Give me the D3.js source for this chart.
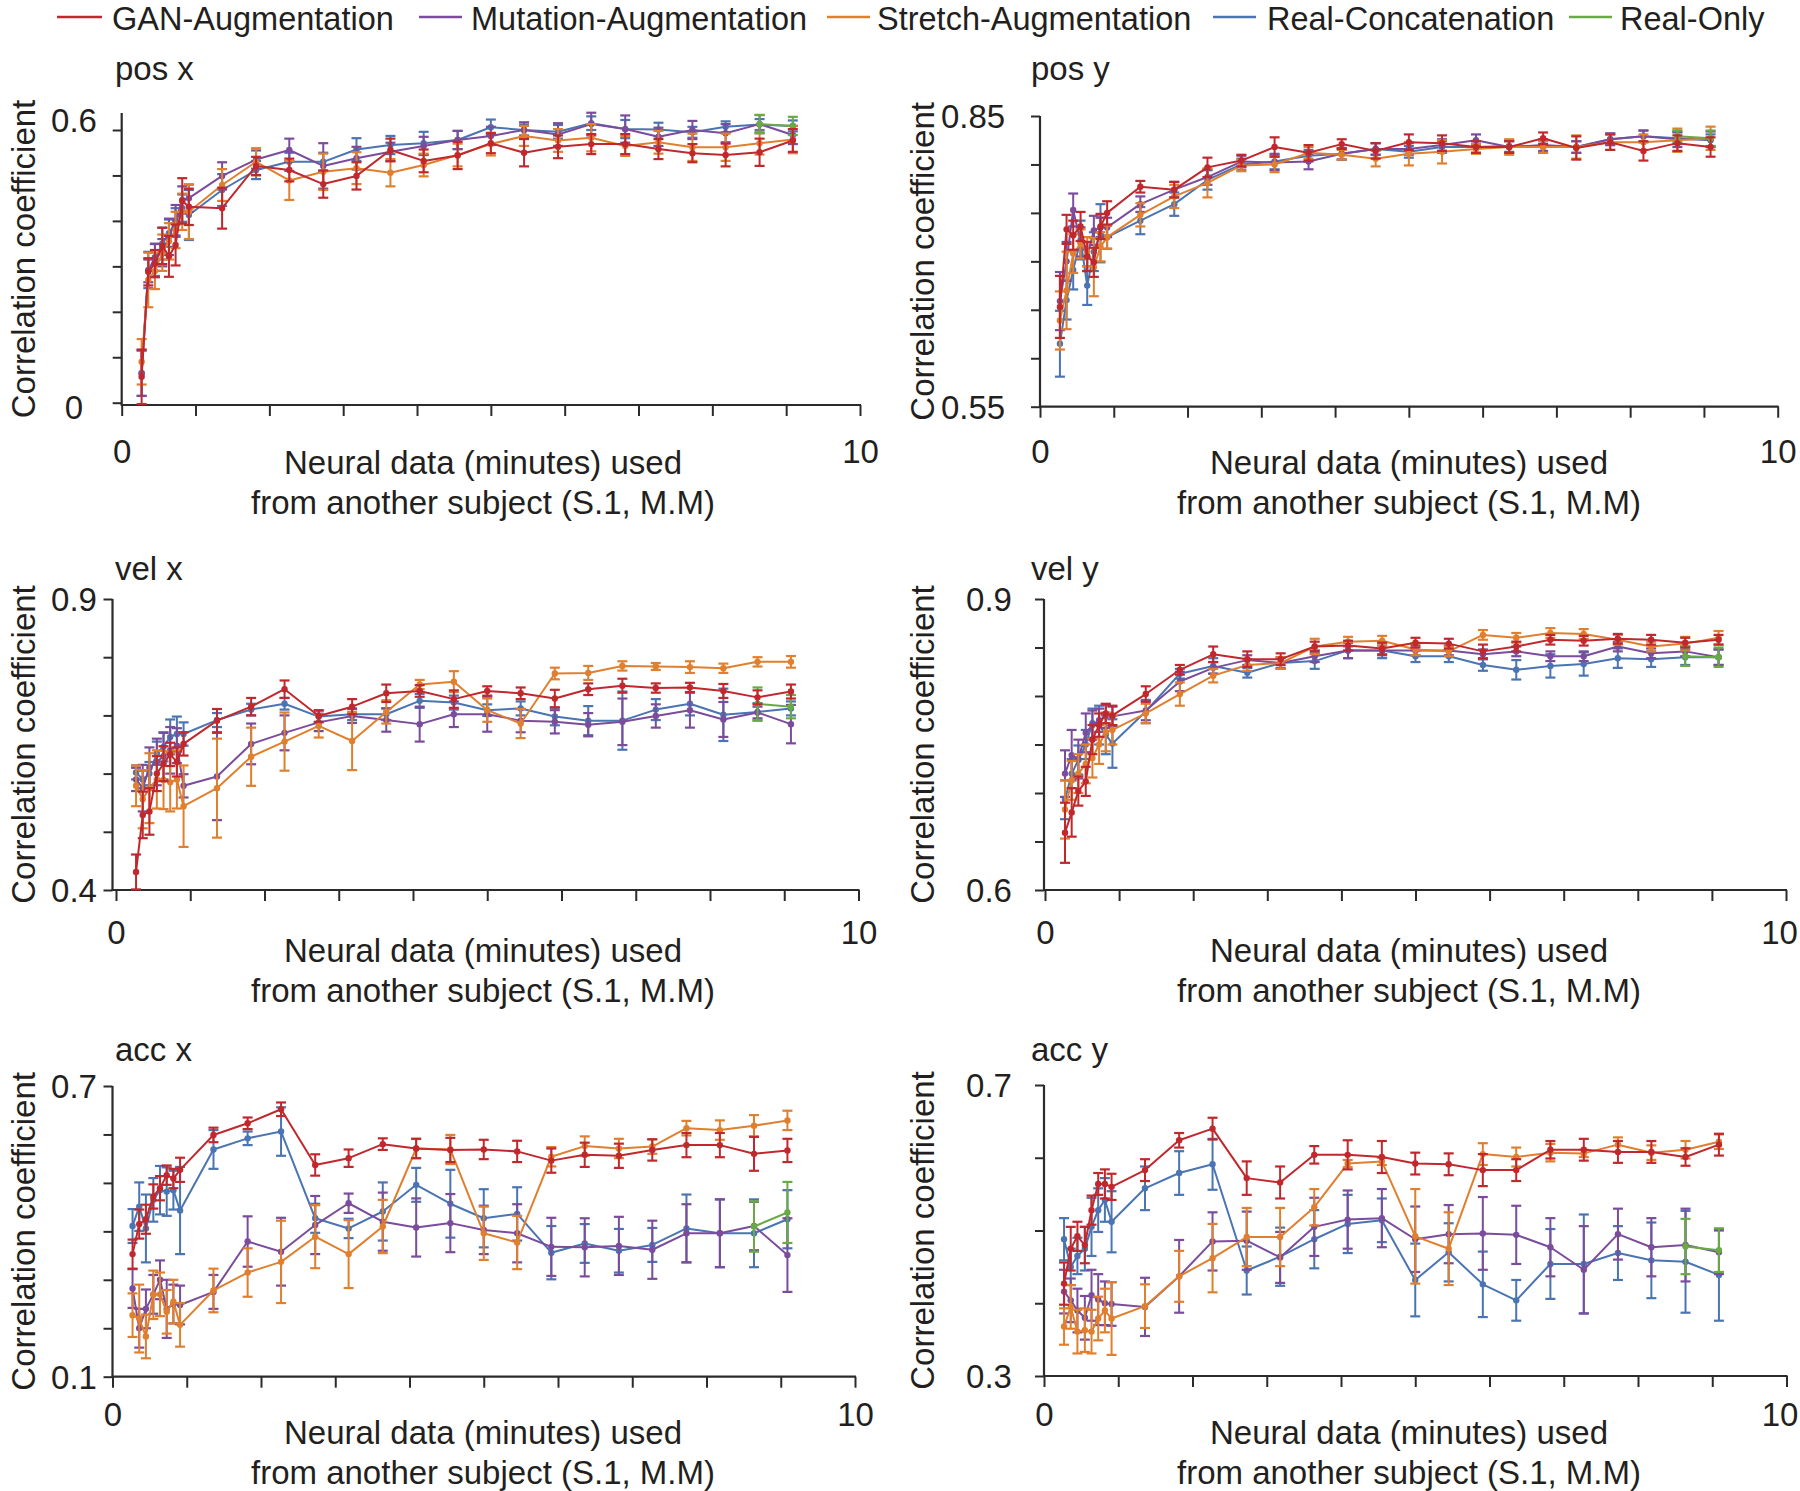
<!DOCTYPE html>
<html><head><meta charset="utf-8">
<script src="https://cdn.jsdelivr.net/npm/d3@7"></script>
<style>
html,body{margin:0;padding:0;background:#fff;}
svg{display:block;}
text{font-family:"Liberation Sans",Arial,Helvetica,sans-serif;fill:#231f20;}
</style>
</head><body>
<svg id="chart" width="1800" height="1491"></svg>
<script>
// ---------------- DATA ----------------
const xMinutes = [0.27,0.36,0.45,0.55,0.64,0.73,0.82,0.91,1.36,1.82,2.27,2.73,3.18,3.64,4.09,4.55,5.00,5.45,5.91,6.36,6.82,7.27,7.73,8.18,8.64,9.09];
const xRealOnly = [8.64, 9.09];
const seriesNames = ["GAN-Augmentation","Mutation-Augmentation","Stretch-Augmentation","Real-Concatenation","Real-Only"];
const seriesColors = ["#c0282d","#7b4c9c","#e07f2e","#4a74b2","#6aaa45"];
const panelTitles = ["pos x","pos y","vel x","vel y","acc x","acc y"];
const yAxisTitle = "Correlation coefficient";
const xAxisTitle1 = "Neural data (minutes) used";
const xAxisTitle2 = "from another subject (S.1, M.M)";
const xTickValues = [0,1,2,3,4,5,6,7,8,9,10];
const xTickLabels = ["0","10"];

const posX_yTicks = [0,0.1,0.2,0.3,0.4,0.5,0.6];
const posX_yLabels = ["0","0.6"];
const posY_yTicks = [0.55,0.6,0.65,0.7,0.75,0.8,0.85];
const posY_yLabels = ["0.55","0.85"];
const velX_yTicks = [0.4,0.5,0.6,0.7,0.8,0.9];
const velX_yLabels = ["0.4","0.9"];
const velY_yTicks = [0.6,0.65,0.7,0.75,0.8,0.85,0.9];
const velY_yLabels = ["0.6","0.9"];
const accX_yTicks = [0.1,0.2,0.3,0.4,0.5,0.6,0.7];
const accX_yLabels = ["0.1","0.7"];
const accY_yTicks = [0.3,0.4,0.5,0.6,0.7];
const accY_yLabels = ["0.3","0.7"];

// pos x
const posX_GAN = [0.057,0.288,0.306,0.345,0.322,0.347,0.444,0.431,0.428,0.521,0.512,0.481,0.499,0.556,0.532,0.544,0.571,0.550,0.563,0.569,0.569,0.558,0.549,0.545,0.551,0.577];
const posX_GAN_err = [0.06,0.03,0.03,0.04,0.045,0.045,0.05,0.04,0.045,0.02,0.025,0.03,0.03,0.025,0.025,0.03,0.022,0.03,0.025,0.022,0.022,0.022,0.02,0.025,0.03,0.025];
const posX_Mut = [0.065,0.29,0.32,0.33,0.365,0.40,0.446,0.45,0.499,0.535,0.556,0.521,0.538,0.552,0.565,0.578,0.587,0.600,0.590,0.613,0.602,0.585,0.600,0.593,0.613,0.589];
const posX_Mut_err = [0.05,0.025,0.03,0.03,0.04,0.035,0.03,0.03,0.03,0.02,0.025,0.05,0.025,0.02,0.02,0.02,0.02,0.017,0.025,0.025,0.03,0.02,0.02,0.02,0.02,0.02];
const posX_Str = [0.09,0.27,0.29,0.33,0.355,0.38,0.42,0.42,0.479,0.530,0.489,0.508,0.516,0.506,0.523,0.545,0.569,0.587,0.577,0.583,0.565,0.573,0.562,0.562,0.571,0.579];
const posX_Str_err = [0.05,0.06,0.04,0.04,0.04,0.04,0.04,0.06,0.035,0.03,0.043,0.04,0.035,0.03,0.025,0.025,0.025,0.022,0.025,0.03,0.022,0.025,0.03,0.03,0.025,0.03];
const posX_RC = [0.065,0.292,0.314,0.35,0.373,0.398,0.428,0.413,0.468,0.512,0.530,0.530,0.557,0.567,0.571,0.578,0.606,0.600,0.596,0.615,0.602,0.601,0.595,0.607,0.612,0.609];
const posX_RC_err = [0.05,0.04,0.035,0.035,0.03,0.03,0.03,0.055,0.035,0.02,0.02,0.02,0.025,0.02,0.025,0.02,0.017,0.012,0.015,0.015,0.02,0.015,0.012,0.012,0.012,0.012];
const posX_RO = [0.613,0.609];
const posX_RO_err = [0.02,0.02];

// pos y
const posY_GAN = [0.653,0.733,0.727,0.736,0.705,0.699,0.736,0.750,0.777,0.774,0.797,0.804,0.818,0.812,0.821,0.814,0.823,0.822,0.818,0.818,0.827,0.817,0.823,0.814,0.822,0.818];
const posY_GAN_err = [0.032,0.015,0.015,0.015,0.015,0.015,0.013,0.012,0.006,0.008,0.01,0.006,0.01,0.008,0.005,0.008,0.008,0.008,0.006,0.006,0.006,0.012,0.008,0.01,0.008,0.01];
const posY_Mut = [0.659,0.70,0.753,0.72,0.705,0.732,0.735,0.735,0.759,0.774,0.787,0.803,0.802,0.803,0.811,0.816,0.816,0.820,0.825,0.818,0.820,0.818,0.826,0.829,0.826,0.826];
const posY_Mut_err = [0.03,0.02,0.017,0.015,0.015,0.015,0.01,0.01,0.008,0.008,0.008,0.006,0.008,0.008,0.006,0.006,0.006,0.006,0.006,0.006,0.006,0.006,0.006,0.006,0.008,0.008];
const posY_Str = [0.639,0.670,0.708,0.718,0.71,0.694,0.715,0.725,0.748,0.767,0.781,0.799,0.800,0.812,0.810,0.806,0.811,0.813,0.816,0.818,0.818,0.818,0.823,0.823,0.825,0.827];
const posY_Str_err = [0.03,0.04,0.02,0.015,0.015,0.03,0.015,0.012,0.012,0.012,0.015,0.006,0.008,0.006,0.005,0.008,0.012,0.012,0.005,0.008,0.006,0.012,0.008,0.008,0.012,0.012];
const posY_RC = [0.615,0.660,0.691,0.722,0.675,0.71,0.729,0.725,0.742,0.759,0.784,0.800,0.803,0.809,0.811,0.816,0.813,0.818,0.818,0.819,0.818,0.818,0.826,0.829,0.827,0.825];
const posY_RC_err = [0.034,0.02,0.02,0.02,0.02,0.02,0.03,0.012,0.014,0.012,0.01,0.006,0.008,0.006,0.006,0.006,0.006,0.006,0.006,0.006,0.006,0.006,0.006,0.006,0.006,0.006];
const posY_RO = [0.829,0.827];
const posY_RO_err = [0.006,0.008];

// vel x
const velX_GAN = [0.431,0.529,0.535,0.600,0.617,0.633,0.620,0.651,0.691,0.715,0.745,0.699,0.715,0.738,0.742,0.728,0.742,0.738,0.729,0.745,0.751,0.747,0.748,0.742,0.731,0.741];
const velX_GAN_err = [0.03,0.04,0.04,0.03,0.03,0.02,0.025,0.02,0.02,0.015,0.015,0.01,0.013,0.015,0.01,0.015,0.008,0.01,0.015,0.01,0.012,0.008,0.008,0.012,0.012,0.012];
const velX_Mut = [0.59,0.575,0.61,0.62,0.63,0.64,0.648,0.579,0.595,0.651,0.670,0.688,0.699,0.692,0.685,0.702,0.702,0.691,0.689,0.684,0.689,0.699,0.709,0.693,0.705,0.685];
const velX_Mut_err = [0.02,0.04,0.035,0.04,0.04,0.04,0.03,0.02,0.075,0.035,0.03,0.015,0.012,0.02,0.03,0.022,0.03,0.02,0.02,0.02,0.04,0.02,0.03,0.03,0.01,0.033];
const velX_Str = [0.579,0.556,0.575,0.59,0.589,0.585,0.590,0.544,0.575,0.629,0.655,0.682,0.656,0.706,0.753,0.758,0.709,0.686,0.772,0.773,0.785,0.784,0.783,0.781,0.792,0.792];
const velX_Str_err = [0.035,0.05,0.06,0.05,0.05,0.05,0.05,0.07,0.085,0.05,0.05,0.02,0.05,0.02,0.008,0.018,0.02,0.025,0.01,0.012,0.008,0.006,0.01,0.008,0.008,0.01];
const velX_RC = [0.602,0.59,0.60,0.635,0.646,0.663,0.668,0.668,0.692,0.710,0.720,0.698,0.702,0.702,0.725,0.722,0.709,0.712,0.698,0.691,0.691,0.710,0.720,0.701,0.706,0.712];
const velX_RC_err = [0.012,0.015,0.02,0.02,0.025,0.03,0.03,0.02,0.012,0.01,0.01,0.01,0.01,0.01,0.012,0.012,0.01,0.012,0.015,0.025,0.05,0.018,0.02,0.045,0.015,0.012];
const velX_RO = [0.720,0.715];
const velX_RO_err = [0.028,0.02];

// vel y
const velY_GAN = [0.659,0.68,0.702,0.712,0.755,0.77,0.782,0.780,0.802,0.827,0.843,0.838,0.838,0.851,0.852,0.849,0.855,0.854,0.846,0.851,0.858,0.857,0.859,0.858,0.855,0.858];
const velY_GAN_err = [0.031,0.025,0.015,0.015,0.015,0.012,0.01,0.01,0.008,0.005,0.008,0.008,0.006,0.005,0.005,0.006,0.005,0.005,0.007,0.005,0.005,0.005,0.005,0.005,0.005,0.005];
const velY_Mut = [0.720,0.739,0.735,0.762,0.77,0.775,0.779,0.779,0.785,0.815,0.829,0.837,0.834,0.841,0.847,0.847,0.847,0.847,0.843,0.846,0.841,0.841,0.851,0.844,0.846,0.840];
const velY_Mut_err = [0.024,0.026,0.02,0.02,0.015,0.012,0.012,0.01,0.01,0.01,0.006,0.005,0.006,0.006,0.008,0.005,0.005,0.005,0.005,0.005,0.005,0.005,0.005,0.005,0.005,0.008];
const velY_Str = [0.683,0.713,0.72,0.73,0.736,0.75,0.763,0.765,0.782,0.802,0.821,0.832,0.834,0.851,0.856,0.857,0.848,0.846,0.863,0.860,0.865,0.864,0.858,0.851,0.854,0.860];
const velY_Str_err = [0.03,0.02,0.02,0.02,0.02,0.02,0.02,0.015,0.01,0.012,0.007,0.006,0.006,0.008,0.005,0.005,0.006,0.005,0.005,0.005,0.005,0.005,0.005,0.005,0.007,0.007];
const velY_RC = [0.693,0.720,0.734,0.75,0.772,0.77,0.76,0.751,0.784,0.823,0.831,0.824,0.834,0.836,0.847,0.847,0.841,0.841,0.832,0.827,0.831,0.833,0.839,0.838,0.840,0.840];
const velY_RC_err = [0.02,0.015,0.015,0.015,0.015,0.02,0.02,0.025,0.012,0.005,0.008,0.005,0.005,0.008,0.008,0.008,0.006,0.006,0.006,0.01,0.012,0.012,0.01,0.008,0.008,0.008];
const velY_RO = [0.841,0.840];
const velY_RO_err = [0.01,0.01];

// acc x
const accX_GAN = [0.353,0.415,0.425,0.472,0.489,0.516,0.509,0.527,0.599,0.623,0.652,0.537,0.551,0.580,0.571,0.568,0.569,0.565,0.546,0.558,0.556,0.568,0.578,0.578,0.560,0.567];
const accX_GAN_err = [0.03,0.03,0.03,0.025,0.025,0.02,0.02,0.025,0.015,0.012,0.014,0.022,0.018,0.012,0.02,0.025,0.02,0.022,0.025,0.025,0.025,0.022,0.025,0.025,0.035,0.024];
const accX_Mut = [0.282,0.20,0.24,0.27,0.30,0.24,0.25,0.248,0.275,0.379,0.358,0.413,0.458,0.420,0.408,0.417,0.403,0.396,0.368,0.367,0.370,0.362,0.396,0.396,0.411,0.351];
const accX_Mut_err = [0.04,0.04,0.04,0.04,0.04,0.06,0.04,0.04,0.035,0.052,0.07,0.06,0.02,0.06,0.06,0.06,0.05,0.06,0.06,0.06,0.06,0.06,0.06,0.07,0.05,0.076];
const accX_Str = [0.227,0.220,0.183,0.269,0.27,0.234,0.255,0.207,0.278,0.315,0.337,0.389,0.353,0.410,0.571,0.569,0.396,0.377,0.554,0.576,0.571,0.575,0.613,0.609,0.618,0.629];
const accX_Str_err = [0.045,0.07,0.045,0.05,0.045,0.045,0.045,0.045,0.045,0.05,0.085,0.065,0.07,0.055,0.02,0.03,0.055,0.055,0.02,0.02,0.02,0.015,0.015,0.02,0.022,0.02];
const accX_RC = [0.411,0.451,0.406,0.465,0.485,0.482,0.485,0.443,0.569,0.592,0.606,0.427,0.406,0.441,0.496,0.457,0.427,0.436,0.356,0.375,0.360,0.372,0.406,0.396,0.396,0.425];
const accX_RC_err = [0.035,0.05,0.07,0.045,0.05,0.05,0.04,0.09,0.04,0.014,0.05,0.03,0.02,0.06,0.035,0.07,0.06,0.055,0.055,0.04,0.045,0.035,0.07,0.07,0.07,0.06];
const accX_RO = [0.410,0.439];
const accX_RO_err = [0.052,0.063];

// acc y
const accY_GAN = [0.427,0.475,0.492,0.480,0.528,0.564,0.564,0.560,0.583,0.624,0.640,0.572,0.566,0.604,0.604,0.601,0.592,0.591,0.583,0.583,0.611,0.611,0.608,0.608,0.601,0.618];
const accY_GAN_err = [0.029,0.03,0.02,0.025,0.02,0.015,0.02,0.018,0.015,0.01,0.015,0.023,0.022,0.012,0.02,0.022,0.015,0.015,0.022,0.015,0.012,0.015,0.015,0.015,0.012,0.015];
const accY_Mut = [0.416,0.404,0.39,0.38,0.411,0.405,0.40,0.399,0.395,0.437,0.485,0.486,0.463,0.505,0.515,0.517,0.488,0.495,0.496,0.494,0.477,0.446,0.495,0.477,0.480,0.470];
const accY_Mut_err = [0.03,0.03,0.03,0.03,0.035,0.035,0.03,0.03,0.04,0.05,0.04,0.04,0.035,0.04,0.04,0.04,0.045,0.04,0.05,0.04,0.04,0.06,0.035,0.04,0.05,0.03];
const accY_Str = [0.368,0.395,0.361,0.363,0.361,0.379,0.390,0.379,0.396,0.437,0.462,0.491,0.491,0.532,0.592,0.595,0.492,0.475,0.605,0.601,0.607,0.606,0.618,0.607,0.611,0.622];
const accY_Str_err = [0.025,0.03,0.03,0.03,0.03,0.03,0.03,0.05,0.03,0.035,0.047,0.04,0.04,0.025,0.005,0.005,0.065,0.05,0.015,0.013,0.012,0.005,0.01,0.01,0.012,0.01];
const accY_RC = [0.488,0.45,0.465,0.475,0.505,0.528,0.542,0.512,0.558,0.579,0.591,0.445,0.464,0.488,0.509,0.514,0.432,0.470,0.426,0.404,0.454,0.454,0.469,0.459,0.457,0.439];
const accY_RC_err = [0.029,0.025,0.025,0.03,0.04,0.03,0.03,0.042,0.03,0.03,0.035,0.033,0.04,0.04,0.04,0.03,0.05,0.04,0.045,0.028,0.048,0.068,0.037,0.052,0.07,0.063];
const accY_RO = [0.478,0.473];
const accY_RO_err = [0.038,0.03];

// ---------------- LAYOUT ----------------
const FONT = 33;
const COL = {
  left:  {titleX:115, yTitleX:35, xTitleX:483},
  right: {titleX:1031, yTitleX:934, xTitleX:1409}
};
const panels = [
  {title:panelTitles[0], col:"left", x0:121.7, x10:860, yAxisX:121.7, yTop:113, yRange:[402.7,130], xAxisY:405,
   titleY:80, xTickLabelY:463, xTitleY:[473.5,513.5], yLabelX:74, yLabelShift:[4,-10], x10Shift:0,
   yDomain:[0,0.6], yTicks:posX_yTicks, yLabels:posX_yLabels,
   data:[[posX_RC,posX_RC_err,3],[posX_Mut,posX_Mut_err,1],[posX_Str,posX_Str_err,2],[posX_RO,posX_RO_err,4],[posX_GAN,posX_GAN_err,0]]},
  {title:panelTitles[1], col:"right", x0:1040, x10:1777.7, yAxisX:1040, yTop:116, yRange:[406.7,116], xAxisY:406.7,
   titleY:80, xTickLabelY:463, xTitleY:[473.5,513.5], yLabelX:973, yLabelShift:[0,0], x10Shift:0,
   yDomain:[0.55,0.85], yTicks:posY_yTicks, yLabels:posY_yLabels,
   data:[[posY_RC,posY_RC_err,3],[posY_Mut,posY_Mut_err,1],[posY_Str,posY_Str_err,2],[posY_RO,posY_RO_err,4],[posY_GAN,posY_GAN_err,0]]},
  {title:panelTitles[2], col:"left", x0:116, x10:858.5, yAxisX:112.5, yTop:599, yRange:[890,599], xAxisY:890,
   titleY:580, xTickLabelY:944, xTitleY:[962,1002], yLabelX:74, yLabelShift:[0,0], x10Shift:0,
   yDomain:[0.4,0.9], yTicks:velX_yTicks, yLabels:velX_yLabels,
   data:[[velX_RC,velX_RC_err,3],[velX_Mut,velX_Mut_err,1],[velX_Str,velX_Str_err,2],[velX_RO,velX_RO_err,4],[velX_GAN,velX_GAN_err,0]]},
  {title:panelTitles[3], col:"right", x0:1045, x10:1786, yAxisX:1044, yTop:599, yRange:[890,599], xAxisY:890,
   titleY:580, xTickLabelY:944, xTitleY:[962,1002], yLabelX:989, yLabelShift:[0,0], x10Shift:-7,
   yDomain:[0.6,0.9], yTicks:velY_yTicks, yLabels:velY_yLabels,
   data:[[velY_RC,velY_RC_err,3],[velY_Mut,velY_Mut_err,1],[velY_Str,velY_Str_err,2],[velY_RO,velY_RO_err,4],[velY_GAN,velY_GAN_err,0]]},
  {title:panelTitles[4], col:"left", x0:112.5, x10:855, yAxisX:112.5, yTop:1086, yRange:[1376.7,1086], xAxisY:1376.7,
   titleY:1061, xTickLabelY:1426, xTitleY:[1443.5,1483.5], yLabelX:74, yLabelShift:[0,0], x10Shift:0,
   yDomain:[0.1,0.7], yTicks:accX_yTicks, yLabels:accX_yLabels,
   data:[[accX_RC,accX_RC_err,3],[accX_Mut,accX_Mut_err,1],[accX_Str,accX_Str_err,2],[accX_RO,accX_RO_err,4],[accX_GAN,accX_GAN_err,0]]},
  {title:panelTitles[5], col:"right", x0:1044, x10:1786.5, yAxisX:1044, yTop:1085, yRange:[1376,1085], xAxisY:1376,
   titleY:1061, xTickLabelY:1426, xTitleY:[1443.5,1483.5], yLabelX:989, yLabelShift:[0,0], x10Shift:-7,
   yDomain:[0.3,0.7], yTicks:accY_yTicks, yLabels:accY_yLabels,
   data:[[accY_RC,accY_RC_err,3],[accY_Mut,accY_Mut_err,1],[accY_Str,accY_Str_err,2],[accY_RO,accY_RO_err,4],[accY_GAN,accY_GAN_err,0]]}
];

const legendItems = [
  {lineX:[57,102], textX:112},
  {lineX:[419,462], textX:471},
  {lineX:[827,870], textX:877},
  {lineX:[1213,1256], textX:1267},
  {lineX:[1569,1612], textX:1620}
];

// ---------------- DRAW ----------------
const svg = d3.select("#chart");
const AX = "#2b2b2b";

// legend
const lg = svg.append("g");
legendItems.forEach((it,i)=>{
  lg.append("line").attr("x1",it.lineX[0]).attr("x2",it.lineX[1]).attr("y1",17).attr("y2",17)
    .attr("stroke",seriesColors[i]).attr("stroke-width",2.5);
  lg.append("text").attr("x",it.textX).attr("y",29.5).attr("font-size",32.5).text(seriesNames[i]);
});

panels.forEach(p=>{
  const g = svg.append("g");
  const c = COL[p.col];
  const x = d3.scaleLinear().domain([0,10]).range([p.x0,p.x10]);
  const y = d3.scaleLinear().domain(p.yDomain).range(p.yRange);

  // axes ticks
  const xAxis = d3.axisBottom(x).tickValues(xTickValues).tickSize(11).tickSizeOuter(0)
      .tickFormat(d => (d===0 ? xTickLabels[0] : d===10 ? xTickLabels[1] : ""));
  const gx = g.append("g").attr("transform",`translate(0,${p.xAxisY})`).call(xAxis);
  gx.select(".domain").remove();
  gx.selectAll(".tick line").attr("stroke",AX).attr("stroke-width",2);
  gx.selectAll(".tick text").attr("y",p.xTickLabelY - p.xAxisY).attr("dy",0)
     .attr("x", d => d===10 ? p.x10Shift : 0)
     .attr("font-size",FONT).attr("font-family","Liberation Sans, Arial, sans-serif").attr("fill","#231f20");

  const lo = p.yTicks[0], hi = p.yTicks[p.yTicks.length-1];
  const yAxis = d3.axisLeft(y).tickValues(p.yTicks).tickSize(9).tickSizeOuter(0)
      .tickFormat(d => (Math.abs(d-lo)<1e-9 ? p.yLabels[0] : Math.abs(d-hi)<1e-9 ? p.yLabels[1] : ""));
  const gy = g.append("g").attr("transform",`translate(${p.yAxisX},0)`).call(yAxis);
  gy.select(".domain").remove();
  gy.selectAll(".tick line").attr("stroke",AX).attr("stroke-width",2);
  gy.selectAll(".tick text").attr("x",p.yLabelX - p.yAxisX).attr("dy","0.36em").attr("text-anchor","middle")
     .attr("y", d => Math.abs(d-lo)<1e-9 ? p.yLabelShift[0] : Math.abs(d-hi)<1e-9 ? p.yLabelShift[1] : 0)
     .attr("font-size",FONT).attr("font-family","Liberation Sans, Arial, sans-serif").attr("fill","#231f20");

  // axis lines
  g.append("line").attr("x1",p.yAxisX).attr("x2",p.yAxisX).attr("y1",p.yTop).attr("y2",p.xAxisY)
    .attr("stroke",AX).attr("stroke-width",2.2);
  g.append("line").attr("x1",p.yAxisX-1).attr("x2",p.x10+1).attr("y1",p.xAxisY).attr("y2",p.xAxisY)
    .attr("stroke",AX).attr("stroke-width",2.2);

  // texts
  g.append("text").attr("x",c.titleX).attr("y",p.titleY).attr("font-size",FONT).text(p.title);
  const ymid = (p.yTop + p.xAxisY)/2;
  g.append("text").attr("transform",`translate(${c.yTitleX},${ymid}) rotate(-90)`)
    .attr("text-anchor","middle").attr("font-size",FONT).text(yAxisTitle);
  g.append("text").attr("x",c.xTitleX).attr("y",p.xTitleY[0]).attr("text-anchor","middle").attr("font-size",FONT).text(xAxisTitle1);
  g.append("text").attr("x",c.xTitleX).attr("y",p.xTitleY[1]).attr("text-anchor","middle").attr("font-size",FONT).text(xAxisTitle2);

  // series
  const line = d3.line().x(d=>x(d.x)).y(d=>y(d.m));
  p.data.forEach(([means, errs, ci])=>{
    const xs = means.length === xMinutes.length ? xMinutes : xRealOnly;
    const pts = means.map((m,i)=>({x:xs[i], m, e:errs[i]}));
    const col = seriesColors[ci];
    const sg = g.append("g");
    const eb = sg.selectAll("g.eb").data(pts).enter().append("g");
    eb.append("line").attr("x1",d=>x(d.x)).attr("x2",d=>x(d.x)).attr("y1",d=>y(d.m-d.e)).attr("y2",d=>y(d.m+d.e))
      .attr("stroke",col).attr("stroke-width",2);
    eb.append("line").attr("x1",d=>x(d.x)-5).attr("x2",d=>x(d.x)+5).attr("y1",d=>y(d.m-d.e)).attr("y2",d=>y(d.m-d.e))
      .attr("stroke",col).attr("stroke-width",2.2);
    eb.append("line").attr("x1",d=>x(d.x)-5).attr("x2",d=>x(d.x)+5).attr("y1",d=>y(d.m+d.e)).attr("y2",d=>y(d.m+d.e))
      .attr("stroke",col).attr("stroke-width",2.2);
    sg.append("path").datum(pts).attr("d",line).attr("fill","none").attr("stroke",col).attr("stroke-width",2)
      .attr("stroke-linejoin","round");
    sg.selectAll("circle").data(pts).enter().append("circle")
      .attr("cx",d=>x(d.x)).attr("cy",d=>y(d.m)).attr("r",3.2).attr("fill",col);
  });
});
</script>
</body></html>
